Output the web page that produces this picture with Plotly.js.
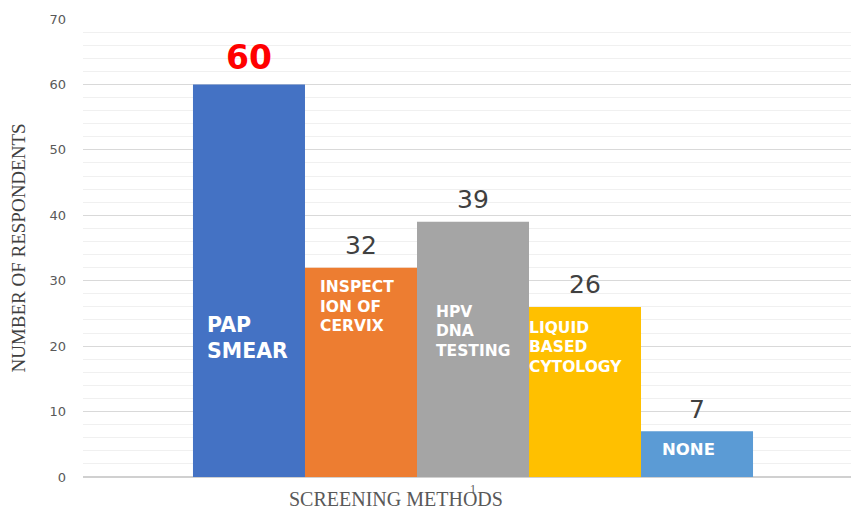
<!DOCTYPE html>
<html>
<head>
<meta charset="utf-8">
<script src="https://cdn.plot.ly/plotly-3.0.1.min.js"></script>
<style>html,body{margin:0;padding:0;background:#fff;}#chart{width:851px;height:509px;}</style>
</head>
<body>
<div id="chart"></div>
<script>
// ---- data ----
const categories = ["1"];
const seriesNames = ["PAP SMEAR", "INSPECTION OF CERVIX", "HPV DNA TESTING", "LIQUID BASED CYTOLOGY", "NONE"];
const seriesValues = [60, 32, 39, 26, 7];
const innerLabelLines = [["PAP", "SMEAR"], ["INSPECT", "ION OF", "CERVIX"], ["HPV", "DNA", "TESTING"], ["LIQUID", "BASED", "CYTOLOGY"], ["NONE"]];
const yTickValues = [0, 10, 20, 30, 40, 50, 60, 70];
const xTitle = "SCREENING METHODS";
const yTitle = "NUMBER OF RESPONDENTS";

// ---- styles ----
const colors = ["#4472C4", "#ED7D31", "#A5A5A5", "#FFC000", "#5B9BD5"];
const W = 851, H = 509, ML = 83, MR = 0, MT = 19, MB = 32;
const plotH = H - MT - MB;
const barPx = 112;              // bar width in px
const catCenterPx = 473;        // pixel x of the category centre
const centerShift = k => (k - 2) * barPx;
const pyToPaper = py => (H - MB - py) / plotH;
const catIndex = 0;             // position of the single category on the axis

const traces = seriesNames.map((name, i) => ({
  type: "bar",
  name: name,
  x: categories,
  y: [seriesValues[i]],
  marker: { color: colors[i] },
  hoverinfo: "skip"
}));

const annotations = [];
// value labels above bars
seriesValues.forEach((v, i) => {
  const isMax = v === Math.max(...seriesValues);
  annotations.push({
    xref: "x", yref: "y", x: catIndex, y: v,
    xshift: centerShift(i), yshift: isMax ? 27 : 22,
    xanchor: "center", yanchor: "middle", showarrow: false,
    text: isMax ? "<b>" + v + "</b>" : String(v),
    font: { family: "DejaVu Sans, Verdana, sans-serif", size: isMax ? 33 : 25, color: isMax ? "#FF0000" : "#404040" }
  });
});
// inner series labels (white bold), per line
const innerStyle = [
  { left: 205, baselines: [332, 358], size: 20.5 },
  { left: 318, baselines: [293, 313, 332], size: 15.5 },
  { left: 434, baselines: [318, 337, 357], size: 15.5 },
  { left: 527, baselines: [334, 353, 373], size: 15.5 },
  { left: 660, baselines: [455], size: 16.5 }
];
innerLabelLines.forEach((lines, i) => {
  const st = innerStyle[i];
  lines.forEach((ln, j) => {
    annotations.push({
      xref: "x", yref: "paper", x: catIndex,
      y: pyToPaper(st.baselines[j] - 0.36 * st.size),
      xshift: st.left - catCenterPx,
      xanchor: "left", yanchor: "middle", showarrow: false,
      text: "<b>" + ln + "</b>",
      font: { family: "DejaVu Sans, Verdana, sans-serif", size: st.size, color: "#FFFFFF" }
    });
  });
});
// x-axis title
annotations.push({
  xref: "paper", yref: "paper", x: (396 - ML) / (W - ML - MR), y: pyToPaper(499),
  xanchor: "center", yanchor: "middle", showarrow: false,
  text: xTitle,
  font: { family: "Liberation Serif, Times New Roman, serif", size: 20, color: "#595959" }
});

const layout = {
  width: W, height: H,
  margin: { l: ML, r: MR, t: MT, b: MB, pad: 0 },
  paper_bgcolor: "#FFFFFF", plot_bgcolor: "#FFFFFF",
  showlegend: false,
  barmode: "group",
  bargap: 0.282, bargroupgap: 0,
  xaxis: {
    type: "category",
    range: [-0.5, -0.5 + (W - ML - MR) / 780],
    showgrid: false, zeroline: false, showline: false, ticks: "",
    tickfont: { family: "Liberation Serif, Times New Roman, serif", size: 12, color: "#595959" },
    ticklabelstandoff: 3,
    fixedrange: true
  },
  yaxis: {
    range: [0, 70],
    tickvals: yTickValues,
    ticktext: yTickValues.map(String),
    showgrid: true, gridcolor: "#D9D9D9", gridwidth: 1,
    minor: { dtick: 2, showgrid: true, gridcolor: "#F0F0F0", gridwidth: 1 },
    zeroline: true, zerolinecolor: "#D0D0D0", zerolinewidth: 1.5,
    showline: false, ticks: "",
    ticklabelstandoff: 16,
    tickfont: { family: "DejaVu Sans, Verdana, sans-serif", size: 13, color: "#595959" },
    title: { text: yTitle, standoff: 18, font: { family: "Liberation Serif, Times New Roman, serif", size: 19, color: "#404040" } },
    automargin: false,
    fixedrange: true
  },
  annotations: annotations
};

Plotly.newPlot("chart", traces, layout, { displayModeBar: false, staticPlot: true });
</script>
</body>
</html>
